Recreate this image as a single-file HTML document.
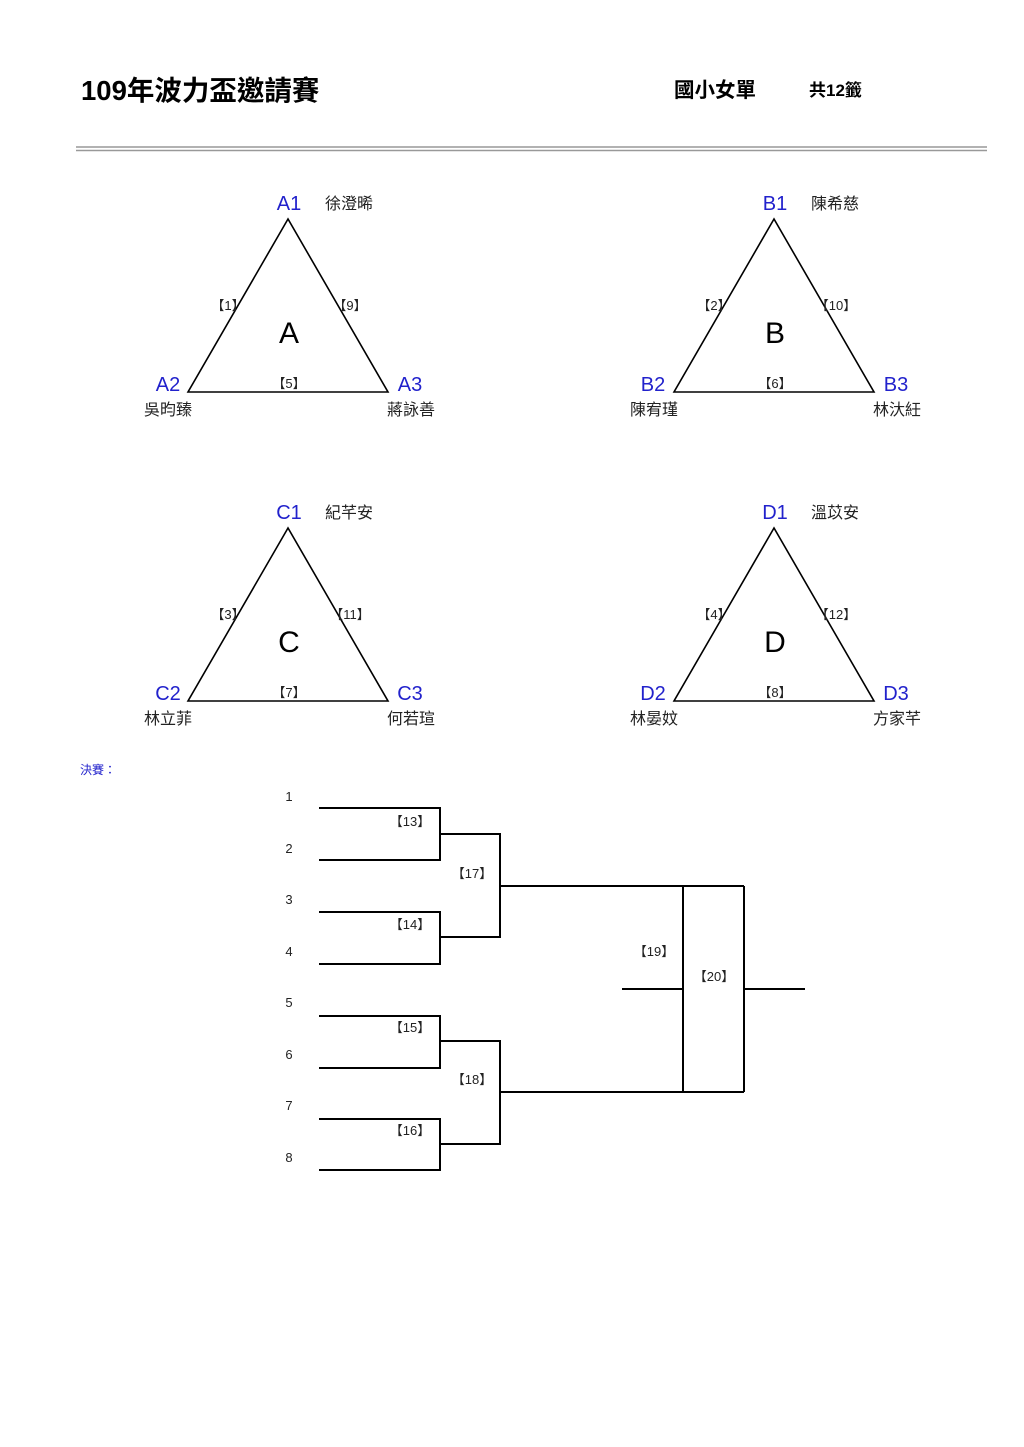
<!DOCTYPE html>
<html><head><meta charset="utf-8"><style>
html,body{margin:0;padding:0;background:#fff;}
svg{display:block;}
text{font-family:"Liberation Sans","Noto Sans CJK TC",sans-serif;}
</style></head><body>
<svg width="1024" height="1447" viewBox="0 0 1024 1447" xmlns="http://www.w3.org/2000/svg">
<text x="81" y="100" font-size="27.5" font-weight="bold" fill="#000">109年波力盃邀請賽</text>
<text x="674" y="97" font-size="20.5" font-weight="bold" fill="#000">國小女單</text>
<text x="809" y="96" font-size="17" font-weight="bold" fill="#000">共12籤</text>
<line x1="76" y1="147" x2="987" y2="147" stroke="#999" stroke-width="1.5"/>
<line x1="76" y1="150.5" x2="987" y2="150.5" stroke="#999" stroke-width="1.5"/>

<g stroke="#000" stroke-width="1.6" fill="none">
<polygon points="288,219 188,392 388,392"/>
<polygon points="774,219 674,392 874,392"/>
<polygon points="288,528 188,701 388,701"/>
<polygon points="774,528 674,701 874,701"/>
</g>
<g font-size="20" fill="#2222cc" text-anchor="middle">
<text x="289" y="210">A1</text><text x="168" y="391">A2</text><text x="410" y="391">A3</text>
<text x="775" y="210">B1</text><text x="653" y="391">B2</text><text x="896" y="391">B3</text>
<text x="289" y="519">C1</text><text x="168" y="700">C2</text><text x="410" y="700">C3</text>
<text x="775" y="519">D1</text><text x="653" y="700">D2</text><text x="896" y="700">D3</text>
</g>
<g font-size="16" fill="#222">
<text x="325" y="209">徐澄晞</text><text x="811" y="209">陳希慈</text>
<text x="325" y="518">紀芊安</text><text x="811" y="518">溫苡安</text>
</g>
<g font-size="16" fill="#222" text-anchor="middle">
<text x="168" y="415">吳昀臻</text><text x="411" y="415">蔣詠善</text>
<text x="654" y="415">陳宥瑾</text><text x="897" y="415">林汏紝</text>
<text x="168" y="724">林立菲</text><text x="411" y="724">何若瑄</text>
<text x="654" y="724">林晏妏</text><text x="897" y="724">方家芊</text>
</g>
<g font-size="30" fill="#000" text-anchor="middle">
<text x="289" y="343">A</text><text x="775" y="343">B</text>
<text x="289" y="652">C</text><text x="775" y="652">D</text>
</g>
<g font-size="13" fill="#222" text-anchor="middle">
<text x="228" y="310">【1】</text><text x="350" y="310">【9】</text><text x="289" y="388">【5】</text>
<text x="714" y="310">【2】</text><text x="836" y="310">【10】</text><text x="775" y="388">【6】</text>
<text x="228" y="619">【3】</text><text x="350" y="619">【11】</text><text x="289" y="697">【7】</text>
<text x="714" y="619">【4】</text><text x="836" y="619">【12】</text><text x="775" y="697">【8】</text>
</g>

<text x="80" y="774" font-size="12" fill="#2222cc">決賽：</text>

<g font-size="13" fill="#222" text-anchor="middle">
<text x="289" y="801">1</text><text x="289" y="853">2</text><text x="289" y="904">3</text><text x="289" y="956">4</text>
<text x="289" y="1007">5</text><text x="289" y="1059">6</text><text x="289" y="1110">7</text><text x="289" y="1162">8</text>
</g>
<g stroke="#000" stroke-width="2" fill="none">
<polyline points="319,808 440,808 440,860 319,860"/>
<polyline points="319,912 440,912 440,964 319,964"/>
<polyline points="319,1016 440,1016 440,1068 319,1068"/>
<polyline points="319,1119 440,1119 440,1170 319,1170"/>
<polyline points="440,834 500,834 500,937 440,937"/>
<polyline points="440,1041 500,1041 500,1144 440,1144"/>
<line x1="500" y1="886" x2="744" y2="886"/>
<line x1="500" y1="1092" x2="744" y2="1092"/>
<line x1="683" y1="886" x2="683" y2="1092"/>
<line x1="744" y1="886" x2="744" y2="1092"/>
<line x1="622" y1="989" x2="683" y2="989"/>
<line x1="744" y1="989" x2="805" y2="989"/>
</g>
<g font-size="13" fill="#222" text-anchor="middle">
<text x="410" y="826">【13】</text><text x="410" y="929">【14】</text>
<text x="410" y="1032">【15】</text><text x="410" y="1135">【16】</text>
<text x="472" y="878">【17】</text><text x="472" y="1084">【18】</text>
<text x="654" y="956">【19】</text><text x="714" y="981">【20】</text>
</g>
</svg>
</body></html>
